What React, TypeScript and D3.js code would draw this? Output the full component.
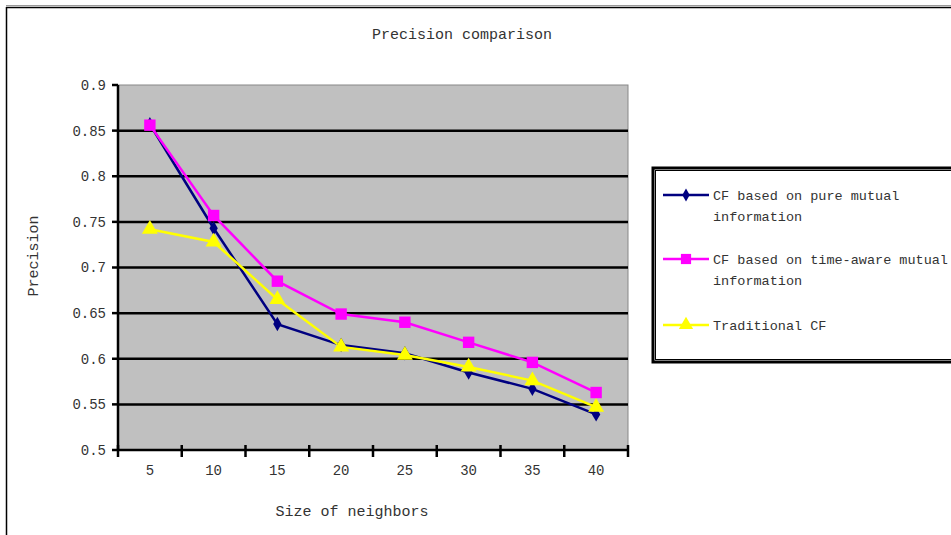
import React, { useEffect, useRef } from "react";
import * as d3 from "d3";

const categories = ["5", "10", "15", "20", "25", "30", "35", "40"];
const pureMI = [0.857, 0.743, 0.638, 0.615, 0.606, 0.585, 0.567, 0.539];
const timeAwareMI = [0.856, 0.757, 0.685, 0.649, 0.64, 0.618, 0.596, 0.563];
const traditional = [0.742, 0.728, 0.665, 0.613, 0.604, 0.591, 0.576, 0.547];
const yTicks = [0.5, 0.55, 0.6, 0.65, 0.7, 0.75, 0.8, 0.85, 0.9];
const yTickLabels = ["0.5", "0.55", "0.6", "0.65", "0.7", "0.75", "0.8", "0.85", "0.9"];

const seriesNames = [
  ["CF based on pure mutual", "information"],
  ["CF based on time-aware mutual", "information"],
  ["Traditional CF"],
];

const FONT = "'Liberation Mono', 'DejaVu Sans Mono', monospace";

export default function App() {
  const ref = useRef<SVGSVGElement>(null);

  useEffect(() => {
    const svg = d3.select(ref.current);
    svg.selectAll("*").remove();

    const W = 951, H = 535;
    const L = 118, R = 628, T = 85, B = 450;

    // outer frame
    svg.append("rect").attr("x", 0).attr("y", 0).attr("width", W).attr("height", H).attr("fill", "#fff");
    svg.append("line").attr("x1", 6).attr("x2", W).attr("y1", 5.5).attr("y2", 5.5).attr("stroke", "#999").attr("stroke-width", 1);
    svg.append("line").attr("x1", 6).attr("x2", W).attr("y1", 7.5).attr("y2", 7.5).attr("stroke", "#000").attr("stroke-width", 1.5);
    svg.append("line").attr("x1", 6.5).attr("x2", 6.5).attr("y1", 7).attr("y2", H).attr("stroke", "#000").attr("stroke-width", 1.5);

    const x = d3.scaleBand().domain(categories).range([L, R]);
    const y = d3.scaleLinear().domain([0.5, 0.9]).range([B, T]);

    // plot area
    svg.append("rect").attr("x", L).attr("y", T).attr("width", R - L).attr("height", B - T)
      .attr("fill", "#c0c0c0").attr("stroke", "#888").attr("stroke-width", 1);

    // gridlines
    svg.append("g").selectAll("line").data(yTicks.filter((v) => v > 0.5 && v < 0.9)).join("line")
      .attr("x1", L).attr("x2", R).attr("y1", (d) => y(d)).attr("y2", (d) => y(d))
      .attr("stroke", "#000").attr("stroke-width", 2.5);

    // y axis
    svg.append("line").attr("x1", L).attr("x2", L).attr("y1", T).attr("y2", B).attr("stroke", "#000").attr("stroke-width", 2.5);
    svg.append("g").selectAll("line").data(yTicks).join("line")
      .attr("x1", L - 6).attr("x2", L).attr("y1", (d) => y(d)).attr("y2", (d) => y(d))
      .attr("stroke", "#000").attr("stroke-width", 2.5);
    svg.append("g").selectAll("text").data(yTicks).join("text")
      .attr("x", L - 12).attr("y", (d) => y(d)).attr("dy", "0.35em").attr("text-anchor", "end")
      .attr("font-family", FONT).attr("font-size", 14).attr("fill", "#333")
      .text((d, i) => yTickLabels[i]);

    // x axis
    svg.append("line").attr("x1", L).attr("x2", R).attr("y1", B).attr("y2", B).attr("stroke", "#000").attr("stroke-width", 2.5);
    const bounds = categories.map((c) => x(c)!).concat([R]);
    svg.append("g").selectAll("line").data(bounds).join("line")
      .attr("x1", (d) => d).attr("x2", (d) => d).attr("y1", B - 5).attr("y2", B + 7)
      .attr("stroke", "#000").attr("stroke-width", 2.5);
    svg.append("g").selectAll("text").data(categories).join("text")
      .attr("x", (d) => x(d)! + x.bandwidth() / 2).attr("y", 470).attr("dy", "0.35em").attr("text-anchor", "middle")
      .attr("font-family", FONT).attr("font-size", 14).attr("fill", "#333")
      .text((d) => d);

    // titles
    svg.append("text").attr("x", 462).attr("y", 34).attr("dy", "0.35em").attr("text-anchor", "middle")
      .attr("font-family", FONT).attr("font-size", 15).attr("fill", "#333").text("Precision comparison");
    svg.append("text").attr("x", 352).attr("y", 511).attr("dy", "0.35em").attr("text-anchor", "middle")
      .attr("font-family", FONT).attr("font-size", 15).attr("fill", "#333").text("Size of neighbors");
    svg.append("text").attr("transform", "translate(33,256) rotate(-90)").attr("dy", "0.35em").attr("text-anchor", "middle")
      .attr("font-family", FONT).attr("font-size", 15).attr("fill", "#333").text("Precision");

    const cx = (i: number) => x(categories[i])! + x.bandwidth() / 2;
    const series = [
      { data: pureMI, color: "#000080", symbol: d3.symbolDiamond, size: 60 },
      { data: timeAwareMI, color: "#ff00ff", symbol: d3.symbolSquare, size: 130 },
      { data: traditional, color: "#ffff00", symbol: d3.symbolTriangle, size: 110 },
    ];
    const line = d3.line<number>().x((_, i) => cx(i)).y((d) => y(d));
    const order = [0, 2, 1];
    order.forEach((si) => {
      const s = series[si];
      svg.append("path").attr("d", line(s.data)).attr("fill", "none").attr("stroke", s.color).attr("stroke-width", 2.5);
    });
    order.forEach((si) => {
      const s = series[si];
      svg.append("g").selectAll("path").data(s.data).join("path")
        .attr("transform", (d, i) => `translate(${cx(i)},${y(d)})`)
        .attr("d", d3.symbol().type(s.symbol).size(s.size)())
        .attr("fill", s.color);
    });

    // legend
    svg.append("rect").attr("x", 653).attr("y", 168).attr("width", 320).attr("height", 194)
      .attr("fill", "#fff").attr("stroke", "#000").attr("stroke-width", 3);
    svg.append("rect").attr("x", 655.5).attr("y", 170.5).attr("width", 320).attr("height", 189)
      .attr("fill", "none").attr("stroke", "#000").attr("stroke-width", 1);
    const ly = [195, 259, 325];
    series.forEach((s, i) => {
      svg.append("line").attr("x1", 663).attr("x2", 709).attr("y1", ly[i]).attr("y2", ly[i])
        .attr("stroke", s.color).attr("stroke-width", 2.5);
      svg.append("path").attr("transform", `translate(686,${ly[i]})`)
        .attr("d", d3.symbol().type(s.symbol).size(s.size * 0.8)()).attr("fill", s.color);
      seriesNames[i].forEach((t, j) => {
        svg.append("text").attr("x", 713).attr("y", ly[i] + j * 21).attr("dy", "0.35em")
          .attr("font-family", FONT).attr("font-size", 13.5).attr("fill", "#333").text(t);
      });
    });
  }, []);

  return (
    <svg ref={ref} width={951} height={535} style={{ position: "absolute", left: 0, top: 0 }} />
  );
}
